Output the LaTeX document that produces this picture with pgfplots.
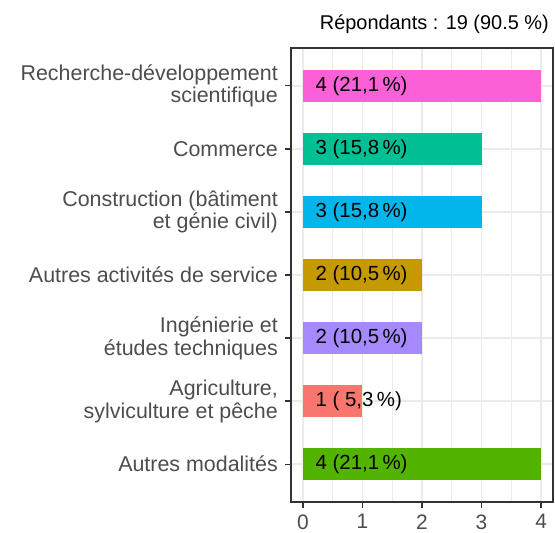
\documentclass[border=0pt]{standalone}
\usepackage{fontspec}
\setmainfont{Liberation Sans}
\usepackage{pgfplots}
\pgfplotsset{compat=1.18}
\definecolor{cAgri}{HTML}{F8766D}
\definecolor{cServ}{HTML}{C49A00}
\definecolor{cAutres}{HTML}{53B400}
\definecolor{cComm}{HTML}{00C094}
\definecolor{cConst}{HTML}{00B6EB}
\definecolor{cIng}{HTML}{A58AFF}
\definecolor{cRech}{HTML}{FB61D7}
\definecolor{tickgray}{HTML}{4D4D4D}
\definecolor{gridgray}{HTML}{EBEBEB}
\definecolor{bordergray}{HTML}{333333}
\pgfplotsset{mybar/.style={xbar, bar width=0.5, bar shift=0pt, fill=#1, draw=none}}
\begin{document}
\begin{tikzpicture}[x=1bp,y=1bp]
\path[use as bounding box] (0,0) rectangle (555,533);
\begin{axis}[
  at={(291bp,31bp)}, anchor=south west,
  scale only axis, width=262bp, height=454bp,
  xmin=-0.2, xmax=4.2, ymin=0.4, ymax=7.6,
  xtick={0,1,2,3,4}, minor xtick={0.5,1.5,2.5,3.5},
  ytick={1,2,3,4,5,6,7},
  yticklabels={Autres modalités,{Agriculture,\\sylviculture et pêche},{Ingénierie et\\études techniques},Autres activités de service,{Construction (bâtiment\\et génie civil)},Commerce,{Recherche-développement\\scientifique}},
  xmajorgrids, ymajorgrids, xminorgrids,
  major grid style={gridgray, line width=1.5bp},
  minor grid style={gridgray, line width=0.9bp},
  axis line style={bordergray, line width=1.3bp},
  tick align=outside, xtick pos=bottom, ytick pos=left,
  major tick length=6bp, minor tick length=0pt,
  major tick style={bordergray, line width=1.3bp},
  /pgf/number format/assume math mode=true,
  yticklabel style={align=right, text=tickgray, inner xsep=7bp, font=\fontsize{21.5}{23}\selectfont},
  xticklabel style={text=tickgray, yshift=-3bp, font=\fontsize{21}{24}\selectfont},
  clip=false,
]
\addplot[mybar=cAutres] coordinates {(4,1)};
\addplot[mybar=cAgri] coordinates {(1,2)};
\addplot[mybar=cIng] coordinates {(2,3)};
\addplot[mybar=cServ] coordinates {(2,4)};
\addplot[mybar=cConst] coordinates {(3,5)};
\addplot[mybar=cComm] coordinates {(3,6)};
\addplot[mybar=cRech] coordinates {(4,7)};
\begin{scope}[every node/.style={anchor=west, inner sep=0pt, font=\fontsize{20.5}{22}\selectfont}]
\node at (axis cs:0.21,1) {4 (21,1\,\%)};
\node at (axis cs:0.21,2) {1 ( 5,3\,\%)};
\node at (axis cs:0.21,3) {2 (10,5\,\%)};
\node at (axis cs:0.21,4) {2 (10,5\,\%)};
\node at (axis cs:0.21,5) {3 (15,8\,\%)};
\node at (axis cs:0.21,6) {3 (15,8\,\%)};
\node at (axis cs:0.21,7) {4 (21,1\,\%)};
\end{scope}
\end{axis}
\node[anchor=base east, inner sep=0pt, font=\fontsize{20}{22}\selectfont] at (549,503) {Répondants : 19 (90.5 \%)};
\end{tikzpicture}
\end{document}
